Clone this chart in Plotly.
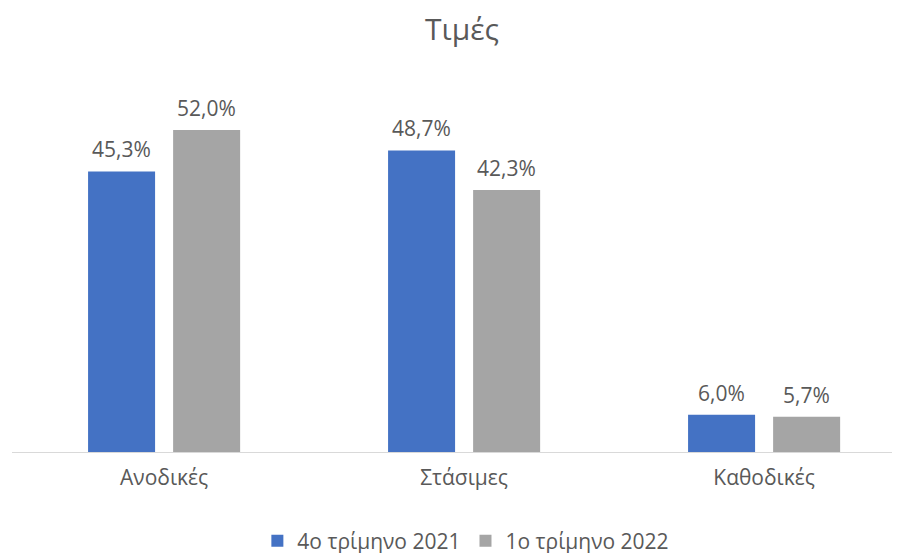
import plotly.graph_objects as go

categories = ["Ανοδικές", "Στάσιμες", "Καθοδικές"]
series_names = ["4ο τρίμηνο 2021", "1ο τρίμηνο 2022"]
q4_2021 = [45.3, 48.7, 6.0]
q1_2022 = [52.0, 42.3, 5.7]
colors = ["#4472C4", "#A5A5A5"]

FONT = "Open Sans, Noto Sans, sans-serif"
TXT = "#595959"
OFF = 8  # page body margin

fig = go.Figure()
for name, vals, col in zip(series_names, [q4_2021, q1_2022], colors):
    fig.add_trace(go.Bar(
        x=categories, y=vals, name=name, marker_color=col, marker_line_width=0,
    ))

# data labels
for k, vals in enumerate([q4_2021, q1_2022]):
    shift = -42.5 if k == 0 else 42.5
    for c, v in zip(categories, vals):
        fig.add_annotation(
            x=c, y=v, xref="x", yref="y", xshift=shift, yshift=6,
            yanchor="bottom", showarrow=False,
            text=f"{v:.1f}%".replace(".", ","),
            font=dict(family=FONT, size=21, color=TXT),
        )

fig.update_layout(
    width=900, height=553,
    margin=dict(l=12 - OFF, r=OFF, t=60 - OFF, b=101 + OFF),
    paper_bgcolor="white", plot_bgcolor="white",
    barmode="group", bargap=0.433, bargroupgap=0.212,
    title=dict(text="Τιμές", x=(462 - OFF) / 900, xanchor="center",
               y=1 - (29 - OFF) / 553, yanchor="middle",
               font=dict(family=FONT, size=30, color=TXT)),
    font=dict(family=FONT, color=TXT),
    legend=dict(orientation="h", x=(468 - OFF) / 900, xanchor="center",
                y=1 - (541 - OFF) / 553, yref="container", yanchor="middle",
                font=dict(family=FONT, size=21, color=TXT),
                traceorder="normal"),
    xaxis=dict(range=[-0.507, 2.453], showline=True, linecolor="#D9D9D9", linewidth=1,
               tickfont=dict(family=FONT, size=21, color=TXT), ticks="",
               ticklabelstandoff=7, showgrid=False, zeroline=False),
    yaxis=dict(range=[0, 63.3], visible=False, showgrid=False, zeroline=False),
)

fig.write_html("out.html")
